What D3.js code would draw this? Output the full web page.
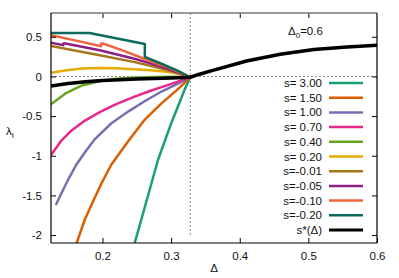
<!DOCTYPE html>
<html>
<head>
<meta charset="utf-8">
<script src="https://cdn.jsdelivr.net/npm/d3@7"></script>
<style>
  body { margin: 0; background: #fff; }
  text { font-family: "Liberation Sans", Arial, sans-serif; font-size: 11.5px; fill: #111; }
</style>
</head>
<body>
<svg id="chart" width="399" height="278"></svg>
<script>
// legend labels and colours, in drawing order
const seriesLabels = ["s= 3.00", "s= 1.50", "s= 1.00", "s= 0.70", "s= 0.40", "s= 0.20",
                      "s=-0.01", "s=-0.05", "s=-0.10", "s=-0.20", "s*(\u0394)"];
const seriesColors = ["#1b9e77", "#d95f02", "#7570b3", "#e7298a", "#66a61e", "#e6ab02",
                      "#a6761d", "#8e1f83", "#f26440", "#0b6b5d", "#000000"];

// [Delta, lambda_I] pairs
const s300 = [[0.245,-2.16],[0.26,-1.70],[0.281,-1.05],[0.301,-0.57],[0.31,-0.38],[0.32,-0.16],[0.328,-0.01]];
const s150 = [[0.160,-2.16],[0.174,-1.81],[0.187,-1.56],[0.199,-1.34],[0.213,-1.11],[0.238,-0.81],[0.262,-0.54],[0.286,-0.34],[0.31,-0.16],[0.328,-0.01]];
const s100 = [[0.132,-1.62],[0.15,-1.30],[0.162,-1.11],[0.175,-0.95],[0.189,-0.79],[0.213,-0.59],[0.238,-0.44],[0.262,-0.31],[0.286,-0.19],[0.31,-0.09],[0.328,-0.01]];
const s070 = [[0.125,-0.99],[0.14,-0.81],[0.155,-0.68],[0.172,-0.57],[0.196,-0.45],[0.22,-0.35],[0.245,-0.26],[0.27,-0.18],[0.295,-0.11],[0.315,-0.05],[0.328,-0.01]];
const s040 = [[0.125,-0.35],[0.147,-0.21],[0.171,-0.11],[0.196,-0.06],[0.22,-0.03],[0.25,-0.014],[0.28,-0.006],[0.30,-0.005],[0.328,-0.01]];
const s020 = [[0.125,0.045],[0.15,0.08],[0.171,0.10],[0.196,0.108],[0.22,0.104],[0.245,0.092],[0.27,0.077],[0.294,0.058],[0.312,0.03],[0.328,-0.01]];
const sm001 = [[0.125,0.385],[0.196,0.268],[0.245,0.184],[0.27,0.135],[0.294,0.08],[0.312,0.035],[0.328,-0.01]];
const sm005 = [[0.125,0.425],[0.143,0.395],[0.143,0.415],[0.146,0.415],[0.196,0.33],[0.245,0.226],[0.27,0.165],[0.294,0.10],[0.312,0.045],[0.328,-0.01]];
const sm010 = [[0.125,0.52],[0.160,0.455],[0.198,0.38],[0.198,0.415],[0.201,0.415],[0.23,0.325],[0.259,0.23],[0.28,0.16],[0.294,0.12],[0.31,0.06],[0.328,-0.01]];
const sm020 = [[0.125,0.548],[0.181,0.548],[0.2617,0.41],[0.2617,0.246],[0.286,0.16],[0.31,0.07],[0.328,-0.01]];
const sStar = [[0.125,-0.12],[0.15,-0.09],[0.175,-0.068],[0.2,-0.052],[0.25,-0.032],[0.3,-0.018],[0.328,-0.01],[0.34,0.025],[0.362,0.08],[0.41,0.195],[0.459,0.28],[0.508,0.34],[0.556,0.372],[0.6,0.393]];

const allSeries = [s300, s150, s100, s070, s040, s020, sm001, sm005, sm010, sm020, sStar];

const xTicks = [0.2, 0.3, 0.4, 0.5, 0.6];
const yTicks = [0.5, 0, -0.5, -1, -1.5, -2];
const deltaC = 0.328;   // dotted vertical marker

const W = 399, H = 278;
const margin = {top: 13, right: 22, bottom: 35, left: 51};

const svg = d3.select("#chart");

const x = d3.scaleLinear().domain([0.125, 0.6]).range([margin.left, W - margin.right]);
const y = d3.scaleLinear().domain([-2.1, 0.8]).range([H - margin.bottom, margin.top]);

svg.append("clipPath").attr("id", "clip")
  .append("rect")
  .attr("x", margin.left).attr("y", margin.top)
  .attr("width", x.range()[1] - margin.left)
  .attr("height", y.range()[0] - margin.top);

// reference lines
svg.append("line")
  .attr("x1", x(0.125)).attr("x2", x(0.6))
  .attr("y1", y(0)).attr("y2", y(0))
  .attr("stroke", "#888").attr("stroke-width", 1).attr("stroke-dasharray", "2,2");
svg.append("line")
  .attr("x1", x(deltaC)).attr("x2", x(deltaC))
  .attr("y1", y(0.8)).attr("y2", y(-2))
  .attr("stroke", "#888").attr("stroke-width", 1).attr("stroke-dasharray", "2,2");

// curves
const line = d3.line().x(d => x(d[0])).y(d => y(d[1]));
const plot = svg.append("g").attr("clip-path", "url(#clip)");
allSeries.forEach((data, i) => {
  plot.append("path")
    .datum(data)
    .attr("d", line)
    .attr("fill", "none")
    .attr("stroke", seriesColors[i])
    .attr("stroke-width", i === allSeries.length - 1 ? 3.5 : 2.5)
    .attr("stroke-linejoin", "round");
});

// axes, ticks pointing inward
const fmt = d => d === 0 ? "0" : String(d);
svg.append("g")
  .attr("transform", `translate(0,${y(-2.1)})`)
  .call(d3.axisBottom(x).tickValues(xTicks).tickSize(-5).tickPadding(9).tickFormat(fmt))
  .call(g => g.select(".domain").remove());
svg.append("g")
  .attr("transform", `translate(0,${y(0.8)})`)
  .call(d3.axisTop(x).tickValues(xTicks.slice(0, 4)).tickSize(-5).tickFormat(""))
  .call(g => g.select(".domain").remove());
svg.append("g")
  .attr("transform", `translate(${x(0.125)},0)`)
  .call(d3.axisLeft(y).tickValues(yTicks).tickSize(-5).tickPadding(9).tickFormat(fmt))
  .call(g => g.select(".domain").remove());
svg.append("g")
  .attr("transform", `translate(${x(0.6)},0)`)
  .call(d3.axisRight(y).tickValues(yTicks).tickSize(-5).tickFormat(""))
  .call(g => g.select(".domain").remove());

svg.selectAll(".tick text").style("font-family", "'Liberation Sans', Arial, sans-serif").style("font-size", "11.5px").attr("fill", "#111");
svg.selectAll(".tick line").attr("stroke", "#000");

// frame
svg.append("line").attr("x1", x(0.125)).attr("x2", x(0.6)).attr("y1", y(0.8)).attr("y2", y(0.8))
  .attr("stroke", "#777").attr("stroke-width", 1.5);
svg.append("line").attr("x1", x(0.6)).attr("x2", x(0.6)).attr("y1", y(0.8)).attr("y2", y(-2.1))
  .attr("stroke", "#000").attr("stroke-width", 1.2);
svg.append("line").attr("x1", x(0.125)).attr("x2", x(0.125)).attr("y1", y(0.8)).attr("y2", y(-2.1))
  .attr("stroke", "#000").attr("stroke-width", 1.2);
svg.append("line").attr("x1", x(0.125)).attr("x2", x(0.6)).attr("y1", y(-2.1)).attr("y2", y(-2.1))
  .attr("stroke", "#000").attr("stroke-width", 1.2);

// axis labels
svg.append("text").attr("x", 214).attr("y", 272).attr("text-anchor", "middle").text("\u0394");
const yl = svg.append("text").attr("x", 6).attr("y", 135);
yl.append("tspan").text("\u03bb");
yl.append("tspan").attr("dy", 3).style("font-size", "8px").text("I");

const note = svg.append("text").attr("x", 288).attr("y", 35);
note.append("tspan").text("\u0394");
note.append("tspan").attr("dy", 3).style("font-size", "8px").text("0");
note.append("tspan").attr("dy", -3).text("=0.6");

// legend
const legend = svg.append("g");
seriesLabels.forEach((lab, i) => {
  const ly = 83 + i * 14.7;
  legend.append("text").attr("x", 322).attr("y", ly + 4).attr("text-anchor", "end").text(lab);
  legend.append("line")
    .attr("x1", 329).attr("x2", 363).attr("y1", ly).attr("y2", ly)
    .attr("stroke", seriesColors[i]).attr("stroke-width", i === seriesLabels.length - 1 ? 3 : 2.5);
});
</script>
</body>
</html>
